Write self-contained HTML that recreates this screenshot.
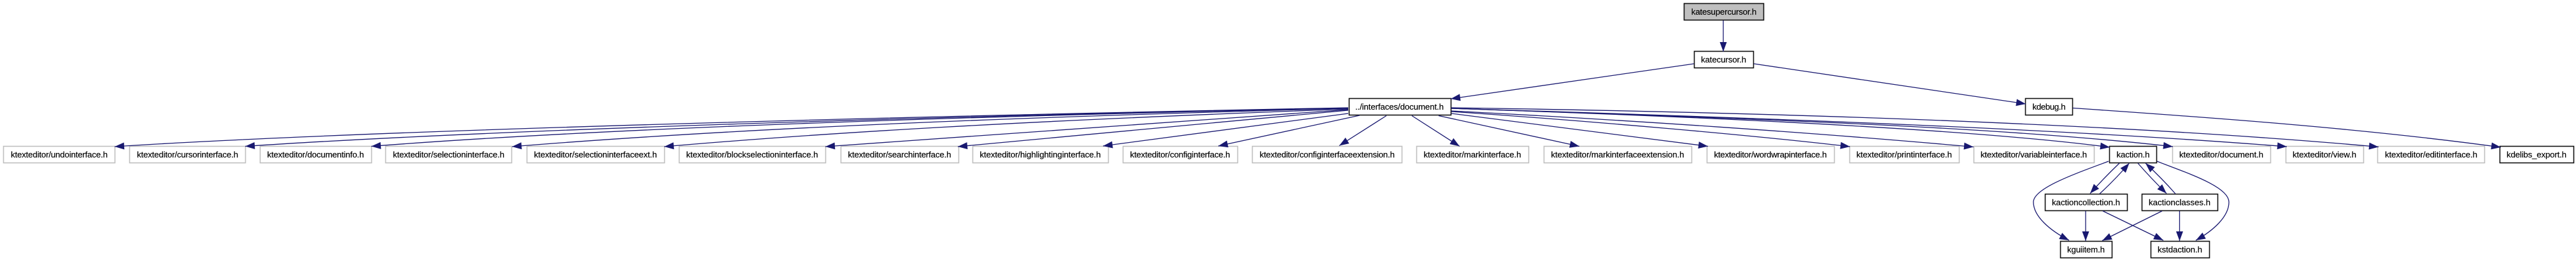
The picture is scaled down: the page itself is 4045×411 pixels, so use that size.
<!DOCTYPE html>
<html>
<head>
<meta charset="utf-8">
<title>katesupercursor.h include graph</title>
<style>
html,body{margin:0;padding:0;background:#fff;width:4045px;height:411px;overflow:hidden}
svg{display:block}
text{font-family:"Liberation Sans",sans-serif;font-size:13.33px;fill:#000;stroke:#000;stroke-width:.15;text-anchor:middle}
.g{fill:#fff;stroke:#bfbfbf;stroke-width:1.6}
.b{fill:#fff;stroke:#111;stroke-width:1.6}
.t{fill:#bfbfbf;stroke:#111;stroke-width:1.6}
path{fill:none;stroke:#191970;stroke-width:1.3;marker-end:url(#a)}
</style>
</head>
<body>
<svg xmlns="http://www.w3.org/2000/svg" width="4045" height="411" viewBox="0 0 4045 411">
<defs>
<marker id="a" markerUnits="userSpaceOnUse" markerWidth="17" markerHeight="13" refX="15" refY="6.5" orient="auto" overflow="visible">
<polygon points="0,1 15,6.5 0,12" fill="#191970" stroke="none"/>
</marker>
</defs>

<rect class="g" x="5.5" y="229.5" width="175" height="26"/><text x="93" y="247" textLength="152">ktexteditor/undointerface.h</text>
<rect class="g" x="203.5" y="229.5" width="182" height="26"/><text x="294.5" y="247" textLength="159">ktexteditor/cursorinterface.h</text>
<rect class="g" x="408.5" y="229.5" width="175" height="26"/><text x="495.5" y="247" textLength="152">ktexteditor/documentinfo.h</text>
<rect class="g" x="605.5" y="229.5" width="198" height="26"/><text x="704.5" y="247" textLength="175">ktexteditor/selectioninterface.h</text>
<rect class="g" x="827.5" y="229.5" width="216" height="26"/><text x="935" y="247" textLength="193">ktexteditor/selectioninterfaceext.h</text>
<rect class="g" x="1066.5" y="229.5" width="230" height="26"/><text x="1181" y="247" textLength="207">ktexteditor/blockselectioninterface.h</text>
<rect class="g" x="1320.5" y="229.5" width="185" height="26"/><text x="1412.5" y="247" textLength="162">ktexteditor/searchinterface.h</text>
<rect class="g" x="1527.5" y="229.5" width="213" height="26"/><text x="1633.5" y="247" textLength="190">ktexteditor/highlightinginterface.h</text>
<rect class="g" x="1763.5" y="229.5" width="180" height="26"/><text x="1853" y="247" textLength="157">ktexteditor/configinterface.h</text>
<rect class="g" x="1966.5" y="229.5" width="235" height="26"/><text x="2084" y="247" textLength="212">ktexteditor/configinterfaceextension.h</text>
<rect class="g" x="2224.5" y="229.5" width="176" height="26"/><text x="2312" y="247" textLength="153">ktexteditor/markinterface.h</text>
<rect class="g" x="2424.5" y="229.5" width="232" height="26"/><text x="2540" y="247" textLength="209">ktexteditor/markinterfaceextension.h</text>
<rect class="g" x="2680.5" y="229.5" width="200" height="26"/><text x="2780" y="247" textLength="177">ktexteditor/wordwrapinterface.h</text>
<rect class="g" x="2904.5" y="229.5" width="172" height="26"/><text x="2990" y="247" textLength="150">ktexteditor/printinterface.h</text>
<rect class="g" x="3099.5" y="229.5" width="189" height="26"/><text x="3193.5" y="247" textLength="167">ktexteditor/variableinterface.h</text>
<rect class="b" x="3312.5" y="229.5" width="74" height="26"/><text x="3349.5" y="247" textLength="52">kaction.h</text>
<rect class="g" x="3411.5" y="229.5" width="154" height="26"/><text x="3488" y="247" textLength="132">ktexteditor/document.h</text>
<rect class="g" x="3589.5" y="229.5" width="122" height="26"/><text x="3650" y="247" textLength="100">ktexteditor/view.h</text>
<rect class="g" x="3733.5" y="229.5" width="168" height="26"/><text x="3817.5" y="247" textLength="145">ktexteditor/editinterface.h</text>
<rect class="b" x="3925.5" y="229.5" width="116" height="26"/><text x="3983" y="247" textLength="94">kdelibs_export.h</text>

<rect class="t" x="2644.5" y="5.5" width="125" height="26"/><text x="2707" y="23" textLength="102.5">katesupercursor.h</text>
<rect class="b" x="2660.5" y="80.5" width="93" height="26"/><text x="2706.5" y="98" textLength="71">katecursor.h</text>
<rect class="b" x="2118.5" y="154.5" width="160" height="26"/><text x="2197.5" y="172" textLength="139">../interfaces/document.h</text>
<rect class="b" x="3180.5" y="154.5" width="74" height="26"/><text x="3217.5" y="172" textLength="52">kdebug.h</text>
<rect class="b" x="3211.5" y="304.5" width="129" height="26"/><text x="3275.5" y="322" textLength="107">kactioncollection.h</text>
<rect class="b" x="3363.5" y="304.5" width="119" height="26"/><text x="3422.5" y="322" textLength="97">kactionclasses.h</text>
<rect class="b" x="3235.5" y="378.5" width="81" height="26"/><text x="3275.5" y="396" textLength="59">kguiitem.h</text>
<rect class="b" x="3377.5" y="378.5" width="92" height="26"/><text x="3423" y="396" textLength="70">kstdaction.h</text>

<path d="M2706,32 L2706,81"/>
<path d="M2660,100 L2278,155"/>
<path d="M2754,100 L3181,163"/>
<path d="M3255,169.5 C3450,183 3700,200 3927,231"/>

<path d="M2117,169 C1500,181 600,203 180,230"/>
<path d="M2117,169.3 C1500,182 800,202 385,229.5"/>
<path d="M2117,169.5 C1500,183 950,201 583,229.5"/>
<path d="M2117,170 C1500,186 1100,206 804,230"/>
<path d="M2117,171 C1600,190 1300,208 1043,230"/>
<path d="M2117,172 L1296,230"/>
<path d="M2117,173 L1504,230"/>
<path d="M2117,178 L1732,229"/>
<path d="M2135,181 L1913,229"/>
<path d="M2177,181.5 L2103,228.5"/>
<path d="M2217,181.5 L2292,229.5"/>
<path d="M2259,181.5 L2480,229.5"/>
<path d="M2279,178 L2682,229.5"/>
<path d="M2279,175 C2500,190 2750,212 2905,230"/>
<path d="M2279,174 C2550,188 2850,208 3099,230.5"/>
<path d="M2279,170 C2700,184 3100,203 3313,231"/>
<path d="M2279,170 C2800,188 3150,200 3412,230"/>
<path d="M2279,170 C2800,186 3250,203 3591,230"/>
<path d="M2279,169 C2900,178 3400,200 3735,230.5"/>

<path d="M3311,253 C3260,272 3193,295 3193,317 C3193,340 3220,362 3249,377"/>
<path d="M3387,253 C3430,270 3500,292 3500,317 C3500,340 3475,362 3448,377"/>
<path d="M3328,256 Q3303,280 3282,303.5"/>
<path d="M3297,304 Q3322,281 3343.5,256"/>
<path d="M3357,256 Q3378,280 3402,303.5"/>
<path d="M3416,304 Q3394,279 3369,256"/>
<path d="M3275,331 L3275,378"/>
<path d="M3302,331 L3397,377"/>
<path d="M3395,331 L3301,377.5"/>
<path d="M3422.5,331 L3422.5,378"/>
</svg>
</body>
</html>
